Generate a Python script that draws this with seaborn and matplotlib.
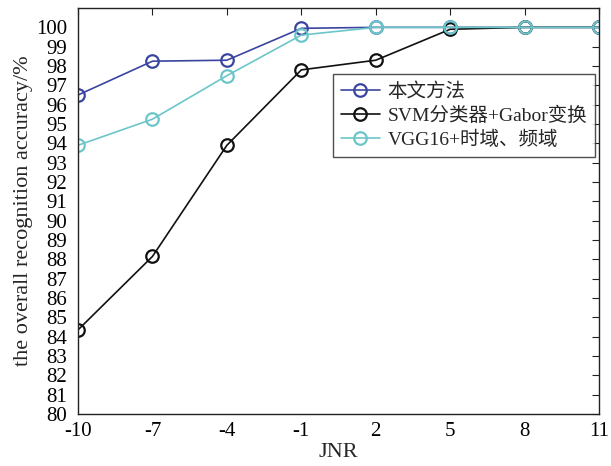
import numpy as np
import pandas as pd
import matplotlib
matplotlib.use("Agg")
import matplotlib.pyplot as plt
import seaborn as sns

# data
jnr = [-10, -7, -4, -1, 2, 5, 8, 11]
acc_ours = [96.5, 98.25, 98.3, 99.95, 100.0, 100.0, 100.0, 100.0]
acc_svm = [84.35, 88.15, 93.9, 97.8, 98.3, 99.9, 100.0, 100.0]
acc_vgg = [93.9, 95.25, 97.5, 99.6, 100.0, 100.0, 100.0, 100.0]
series_names = ["本文方法", "SVM分类器+Gabor变换", "VGG16+时域、频域"]
series_colors = ["#3b45a0", "#111111", "#6cc6c9"]
xticks = [-10, -7, -4, -1, 2, 5, 8, 11]
yticks = list(range(80, 101))

sns.set_theme(style="white")
plt.rcParams["font.family"] = ["Liberation Serif", "Noto Sans CJK SC"]

fig = plt.figure(figsize=(6.11, 4.66), dpi=100)
ax = fig.add_axes([0.1277, 0.1116, 0.8527, 0.8712])

for name, vals, color in zip(series_names, [acc_ours, acc_svm, acc_vgg], series_colors):
    df = pd.DataFrame({"JNR": jnr, "acc": vals})
    sns.lineplot(data=df, x="JNR", y="acc", ax=ax, color=color, label=name,
                 marker="o", markersize=9, markerfacecolor="none",
                 markeredgecolor=color, markeredgewidth=1.6, linewidth=1.2)

ax.set_xlim(-10, 11)
ax.set_ylim(80, 101)
ax.set_xticks(xticks)
ax.set_yticks(yticks)
ax.set_xticklabels([str(t) for t in xticks], fontsize=15)
ax.set_yticklabels([str(t) for t in yticks], fontsize=15)
ax.tick_params(direction="in", length=5, width=0.8, top=True, right=True,
               colors="#222222", labelcolor="black")
ax.tick_params(axis="x", pad=6)
ax.tick_params(axis="y", pad=8)
for s in ax.spines.values():
    s.set_color("#222222")
    s.set_linewidth(1.0)

ax.set_xlabel("JNR", fontsize=16, labelpad=1)
ax.set_ylabel("the overall recognition accuracy/%", fontsize=16, labelpad=2)

leg = ax.legend(loc="upper right", bbox_to_anchor=(0.992, 0.837), fontsize=14,
                frameon=True, fancybox=False, edgecolor="#222222",
                handlelength=2.0, handletextpad=0.4, borderpad=0.4,
                labelspacing=0.3, borderaxespad=0)
leg.get_frame().set_linewidth(1.0)

fig.savefig("out.png", dpi=100)
